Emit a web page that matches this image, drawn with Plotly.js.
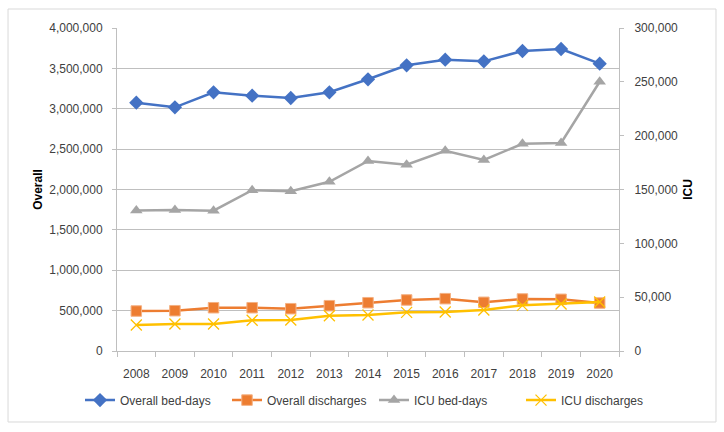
<!DOCTYPE html>
<html>
<head>
<meta charset="utf-8">
<script src="https://cdn.plot.ly/plotly-3.0.1.min.js"></script>
<style>
  html, body { margin: 0; padding: 0; background: #fff; }
  #chart { width: 724px; height: 432px; }
</style>
</head>
<body>
<div id="chart"></div>
<script>
var years = ['2008', '2009', '2010', '2011', '2012', '2013', '2014', '2015', '2016', '2017', '2018', '2019', '2020'];

// left axis (Overall)
var overallBedDays = [3075000, 3018000, 3204000, 3162000, 3133000, 3204000, 3365000, 3538000, 3608000, 3587000, 3715000, 3740000, 3558000];
var overallDischarges = [495000, 499000, 536000, 536000, 524000, 561000, 598000, 632000, 648000, 603000, 644000, 640000, 594000];

// right axis (ICU)
var icuBedDays = [130600, 131000, 130300, 149300, 148300, 157200, 176500, 173000, 186000, 177400, 192500, 193200, 250100];
var icuDischarges = [24100, 25100, 25100, 28500, 28800, 32800, 33500, 35900, 36200, 38100, 42400, 43700, 45500];

var trace1 = {
    type: 'scatter', mode: 'lines+markers',
    name: 'Overall bed-days',
    x: years, y: overallBedDays,
    line: { color: '#4472C4', width: 2.5 },
    marker: { symbol: 'diamond', size: 11, color: '#4472C4' }
};
var trace2 = {
    type: 'scatter', mode: 'lines+markers',
    name: 'Overall discharges',
    x: years, y: overallDischarges,
    line: { color: '#ED7D31', width: 2.5 },
    marker: { symbol: 'square', size: 10.5, color: '#ED7D31', line: { color: '#F4B183', width: 1 } }
};
var trace3 = {
    type: 'scatter', mode: 'lines+markers',
    name: 'ICU bed-days',
    x: years, y: icuBedDays, yaxis: 'y2',
    line: { color: '#A5A5A5', width: 2.5 },
    marker: { symbol: 'triangle-up', size: 11, color: '#A5A5A5' }
};
var trace4 = {
    type: 'scatter', mode: 'lines+markers',
    name: 'ICU discharges',
    x: years, y: icuDischarges, yaxis: 'y2',
    line: { color: '#FFC000', width: 2.5 },
    marker: { symbol: 'x-thin', size: 11, color: '#FFC000', line: { color: '#FFC000', width: 1.3 } }
};

var data = [trace1, trace2, trace3, trace4];

var fontFam = 'Liberation Sans, Arial, sans-serif';
var tickFont = { family: fontFam, size: 12, color: '#404040' };

var layout = {
    width: 724, height: 432,
    margin: { l: 117, r: 105, t: 28, b: 81 },
    paper_bgcolor: '#ffffff',
    plot_bgcolor: '#ffffff',
    font: tickFont,
    showlegend: true,
    legend: {
        orientation: 'h',
        x: -0.0737, xanchor: 'left',
        y: -0.152, yanchor: 'middle',
        itemwidth: 30,
        entrywidth: 102,
        entrywidthmode: 'pixels',
        tracegroupgap: 0,
        font: { family: fontFam, size: 12, color: '#404040' }
    },
    xaxis: {
        type: 'category',
        range: [-0.5, 12.5],
        tickson: 'boundaries',
        ticks: 'outside', ticklen: 5, tickcolor: '#bfbfbf',
        ticklabelstandoff: 12,
        showgrid: false,
        showline: true, linecolor: '#bfbfbf', linewidth: 1,
        tickfont: tickFont
    },
    yaxis: {
        range: [0, 4000000],
        dtick: 500000,
        tickformat: ',',
        ticks: 'outside', ticklen: 4, tickcolor: '#bfbfbf',
        ticklabelstandoff: 7,
        showline: true, linecolor: '#bfbfbf',
        gridcolor: '#bfbfbf', gridwidth: 1,
        zeroline: false,
        tickfont: tickFont,
        title: { text: '<b>Overall</b>', font: { family: fontFam, size: 12, color: '#000' }, standoff: 4 }
    },
    yaxis2: {
        overlaying: 'y', side: 'right',
        range: [0, 300000],
        dtick: 50000,
        tickformat: ',',
        ticks: 'outside', ticklen: 4, tickcolor: '#bfbfbf',
        ticklabelstandoff: 8,
        showline: true, linecolor: '#bfbfbf',
        showgrid: false, zeroline: false,
        tickfont: tickFont,
        title: { text: '<b>ICU</b>', font: { family: fontFam, size: 12, color: '#000' }, standoff: 6 }
    },
    shapes: [{
        type: 'rect', xref: 'paper', yref: 'paper',
        x0: -0.2171, x1: 1.1932, y0: -0.2198, y1: 1.0588,
        line: { color: '#d9d9d9', width: 1 },
        layer: 'below'
    }]
};

Plotly.newPlot('chart', data, layout, { staticPlot: true });
</script>
</body>
</html>
